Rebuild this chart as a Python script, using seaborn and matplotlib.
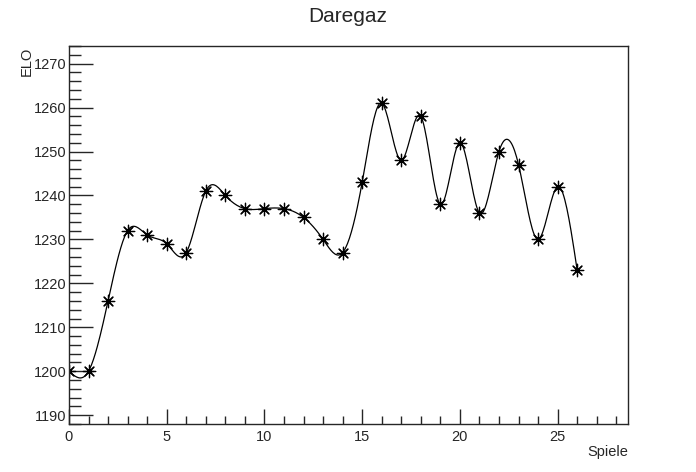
import numpy as np
import pandas as pd
import matplotlib
matplotlib.use("Agg")
import matplotlib.pyplot as plt
import seaborn as sns
from matplotlib.ticker import MultipleLocator

# Data
spiele = [0, 1, 2, 3, 4, 5, 6, 7, 8, 9, 10, 11, 12, 13, 14, 15, 16, 17, 18, 19, 20, 21, 22, 23, 24, 25, 26]
elo = [1200, 1200, 1216, 1232, 1231, 1229, 1227, 1241, 1240, 1237, 1237, 1237, 1235, 1230, 1227,
       1243, 1261, 1248, 1258, 1238, 1252, 1236, 1250, 1247, 1230, 1242, 1223]
title = "Daregaz"
x_label = "Spiele"
y_label = "ELO"


def natural_spline(x, y, n_per=20):
    # natural cubic spline through the points (smooth curve like ROOT "C")
    x = np.asarray(x, float)
    y = np.asarray(y, float)
    n = len(x)
    h = np.diff(x)
    A = np.zeros((n, n))
    b = np.zeros(n)
    A[0, 0] = A[-1, -1] = 1
    for i in range(1, n - 1):
        A[i, i - 1] = h[i - 1]
        A[i, i] = 2 * (h[i - 1] + h[i])
        A[i, i + 1] = h[i]
        b[i] = 6 * ((y[i + 1] - y[i]) / h[i] - (y[i] - y[i - 1]) / h[i - 1])
    M = np.linalg.solve(A, b)
    xs, ys = [], []
    for i in range(n - 1):
        t = np.linspace(x[i], x[i + 1], n_per, endpoint=(i == n - 2))
        a = x[i + 1] - t
        c = t - x[i]
        s = (M[i] * a ** 3 + M[i + 1] * c ** 3) / (6 * h[i]) \
            + (y[i] / h[i] - M[i] * h[i] / 6) * a + (y[i + 1] / h[i] - M[i + 1] * h[i] / 6) * c
        xs.extend(t)
        ys.extend(s)
    return np.array(xs), np.array(ys)


sns.set_style("ticks")
plt.rcParams["font.family"] = ["Liberation Sans", "DejaVu Sans"]

df = pd.DataFrame({"Spiele": spiele, "ELO": elo})
cx, cy = natural_spline(spiele, elo)
curve = pd.DataFrame({"Spiele": cx, "ELO": cy})

fig = plt.figure(figsize=(6.96, 4.72), dpi=100)
ax = fig.add_axes([0.0991, 0.1017, 0.8032, 0.8008])

sns.lineplot(data=curve, x="Spiele", y="ELO", color="black", linewidth=0.9, sort=False, ax=ax)
sns.scatterplot(data=df, x="Spiele", y="ELO", marker=(8, 2, 0), s=80, color="black",
                linewidth=0.9, ax=ax)

ax.set_xlim(0, 28.6)
ax.set_ylim(1188, 1274)
ax.xaxis.set_major_locator(MultipleLocator(5))
ax.xaxis.set_minor_locator(MultipleLocator(1))
ax.yaxis.set_major_locator(MultipleLocator(10))
ax.yaxis.set_minor_locator(MultipleLocator(2))
ax.tick_params(which="both", direction="in", top=False, right=False, labelsize=10.5, width=1)
ax.tick_params(axis="y", which="major", length=17, pad=2)
ax.tick_params(axis="y", which="minor", length=8.5)
ax.tick_params(axis="x", which="major", length=11, pad=4)
ax.tick_params(axis="x", which="minor", length=5.5)
for sp in ax.spines.values():
    sp.set_visible(True)
    sp.set_linewidth(1)

ax.set_xlabel("")
ax.set_ylabel("")
fig.text(0.9023, 0.028, x_label, ha="right", va="bottom", fontsize=10.5)
fig.text(0.039, 0.9, y_label, ha="center", va="top", rotation=90, fontsize=10.5)
fig.text(0.5, 0.965, title, ha="center", va="center", fontsize=15)

fig.savefig("out.png", dpi=100)
